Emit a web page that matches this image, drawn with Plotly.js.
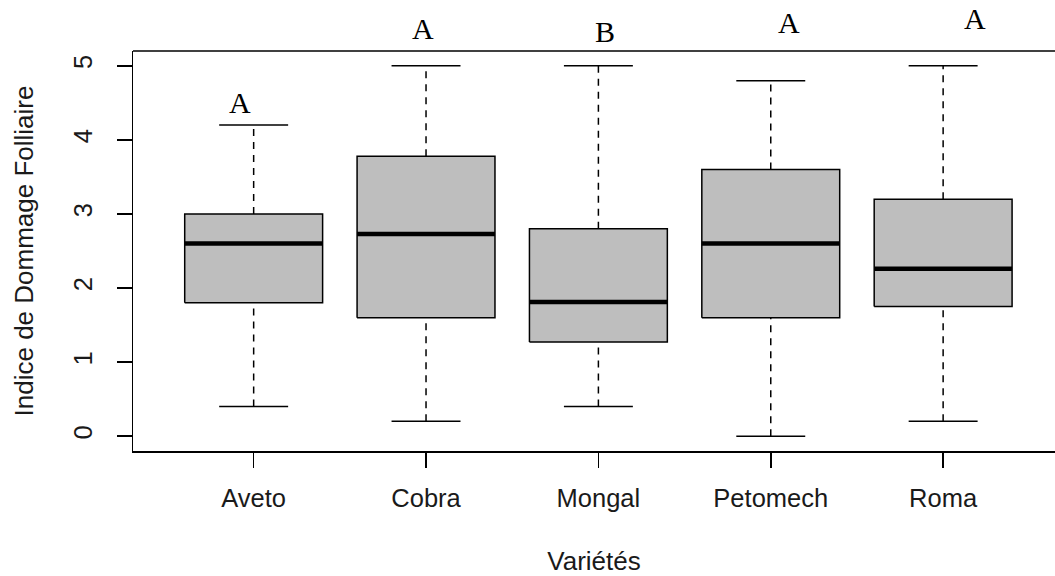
<!DOCTYPE html>
<html>
<head>
<meta charset="utf-8">
<script src="https://cdn.plot.ly/plotly-3.0.1.min.js"></script>
<style>html,body{margin:0;padding:0;background:#fff;}#chart{width:1055px;height:576px;}</style>
</head>
<body>
<div id="chart"></div>
<script>
// ---- data ----
const categories = ["Aveto", "Cobra", "Mongal", "Petomech", "Roma"];
const lowerWhisker = [0.4, 0.2, 0.4, 0.0, 0.2];
const q1Values = [1.8, 1.6, 1.27, 1.6, 1.75];
const medianValues = [2.6, 2.73, 1.81, 2.6, 2.26];
const q3Values = [3.0, 3.78, 2.8, 3.6, 3.2];
const upperWhisker = [4.2, 5.0, 5.0, 4.8, 5.0];
const groupLetters = ["A", "A", "B", "A", "A"];
const letterX = [0.92, 1.98, 3.04, 4.107, 5.185];
const letterY = [4.51, 5.50, 5.47, 5.58, 5.64];
const yTicks = [0, 1, 2, 3, 4, 5];

// ---- build traces ----
const pos = categories.map((c, i) => i + 1);
const halfBox = 0.4, halfStaple = 0.2;
const yRange = [-0.2, 5.2];

const boxX = [], boxY = [], medX = [], medY = [], whX = [], whY = [], stX = [], stY = [];
pos.forEach((p, i) => {
  boxX.push(p - halfBox, p + halfBox, p + halfBox, p - halfBox, p - halfBox, null);
  boxY.push(q1Values[i], q1Values[i], q3Values[i], q3Values[i], q1Values[i], null);
  medX.push(p - halfBox, p + halfBox, null);
  medY.push(medianValues[i], medianValues[i], null);
  whX.push(p, p, null, p, p, null);
  whY.push(q3Values[i], upperWhisker[i], null, lowerWhisker[i], q1Values[i], null);
  stX.push(p - halfStaple, p + halfStaple, null, p - halfStaple, p + halfStaple, null);
  stY.push(upperWhisker[i], upperWhisker[i], null, lowerWhisker[i], lowerWhisker[i], null);
});

const traces = [
  {x: whX, y: whY, type: "scatter", mode: "lines", line: {color: "#000", width: 1.5, dash: "7px,6px"}, hoverinfo: "skip", showlegend: false},
  {x: boxX, y: boxY, type: "scatter", mode: "lines", fill: "toself", fillcolor: "#BEBEBE", line: {color: "#000", width: 1.5}, hoverinfo: "skip", showlegend: false},
  {x: medX, y: medY, type: "scatter", mode: "lines", line: {color: "#000", width: 4.5}, hoverinfo: "skip", showlegend: false},
  {x: stX, y: stY, type: "scatter", mode: "lines", line: {color: "#000", width: 1.5}, hoverinfo: "skip", showlegend: false}
];

// group letters drawn above the plot frame (R text with xpd=TRUE):
// y given in data units, mapped onto the y axis range
const annotations = groupLetters.map((t, i) => ({
  text: t, showarrow: false,
  xref: "x", x: letterX[i],
  yref: "paper", y: (letterY[i] - yRange[0]) / (yRange[1] - yRange[0]),
  xanchor: "center", yanchor: "middle",
  font: {family: "Liberation Serif, Times New Roman, serif", size: 30, color: "#000"}
}));

const sans = "Liberation Sans, Arial, sans-serif";
const layout = {
  width: 1055, height: 576,
  margin: {l: 133, r: 0, t: 51, b: 124.5, pad: 0},
  paper_bgcolor: "#fff", plot_bgcolor: "#fff",
  showlegend: false,
  xaxis: {
    type: "linear", range: [0.3, 5.649], autorange: false,
    tickmode: "array", tickvals: pos, ticktext: categories,
    ticks: "outside", ticklen: 15, tickwidth: 1.5, tickcolor: "#000",
    showline: true, linecolor: "#000", linewidth: 1.5,
    showgrid: false, zeroline: false,
    tickfont: {family: sans, size: 25.5, color: "#1a1a1a"},
    ticklabelstandoff: 9,
    title: {text: "Variétés", font: {family: sans, size: 26, color: "#1a1a1a"}, standoff: 44}
  },
  yaxis: {
    range: yRange, autorange: false,
    tickmode: "array", tickvals: yTicks, ticktext: yTicks.map(String),
    tickangle: -90,
    ticks: "outside", ticklen: 15, tickwidth: 1.5, tickcolor: "#000",
    showline: true, linecolor: "#000", linewidth: 1.5,
    showgrid: false, zeroline: false,
    tickfont: {family: sans, size: 25.5, color: "#1a1a1a"},
    ticklabelstandoff: 14,
    title: {text: "Indice de Dommage Folliaire", font: {family: sans, size: 26, color: "#1a1a1a"}, standoff: 28}
  },
  annotations: annotations,
  shapes: [
    {type: "line", xref: "paper", yref: "paper", x0: 0, x1: 1, y0: 1, y1: 1, line: {color: "#000", width: 1.5}}
  ]
};

Plotly.newPlot("chart", traces, layout, {displayModeBar: false, staticPlot: true});
</script>
</body>
</html>
